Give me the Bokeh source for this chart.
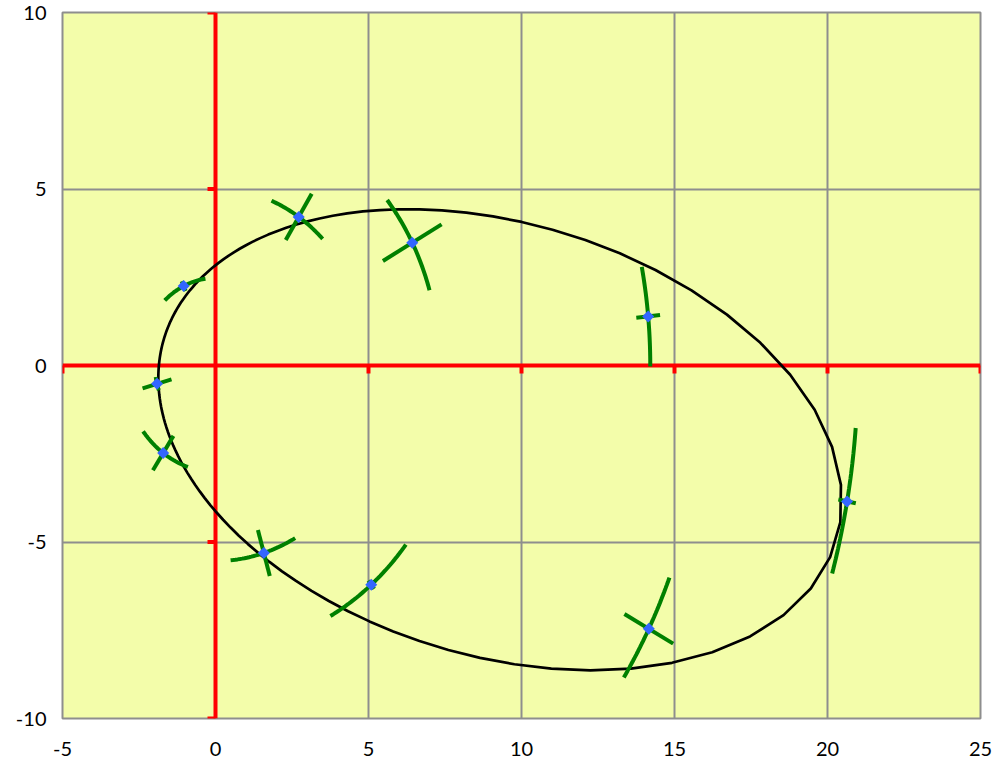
import numpy as np
from bokeh.plotting import figure
from bokeh.models import Range1d, FixedTicker
from bokeh.embed import file_html
from bokeh.resources import INLINE

# ---- axis ticks ----
x_ticks = [-5, 0, 5, 10, 15, 20, 25]
y_ticks = [-10, -5, 0, 5, 10]

# ---- observed positions (x, y) ----
obs_x = [-1.04, 2.72, 6.43, 14.14, 20.64, 14.16, 5.09, 1.58, -1.71, -1.91]
obs_y = [2.25, 4.21, 3.48, 1.39, -3.85, -7.46, -6.21, -5.31, -2.48, -0.52]
# bearing error (half width, radians) and range error (half length)
bearing_err = [0.30, 0.20, 0.20, 0.10, 0.10, 0.10, 0.20, 0.20, 0.30, 0.10]
range_err = [0.15, 0.78, 1.09, 0.39, 0.29, 0.90, 0.15, 0.68, 0.59, 0.49]

# ---- fitted orbit (focus at origin) ----
orbit_p = 3.365         # semi-latus rectum
orbit_e = 0.839         # eccentricity
orbit_peri_deg = 167.26 # direction of periapsis
anomaly_step = 0.05     # radians between curve vertices

# orbit polyline
nu = np.arange(0.0, 2 * np.pi, anomaly_step)
nu = np.append(nu, 2 * np.pi)
r_orb = orbit_p / (1 + orbit_e * np.cos(nu))
th_orb = nu + np.radians(orbit_peri_deg)
orb_x = r_orb * np.cos(th_orb)
orb_y = r_orb * np.sin(th_orb)

# error arcs and radial bars
arc_xs, arc_ys = [], []
for x, y, da, dr in zip(obs_x, obs_y, bearing_err, range_err):
    r = np.hypot(x, y)
    th = np.arctan2(y, x)
    t = np.linspace(th - da, th + da, 30)
    arc_xs.append(list(r * np.cos(t)))
    arc_ys.append(list(r * np.sin(t)))
    arc_xs.append([(r - dr) * np.cos(th), (r + dr) * np.cos(th)])
    arc_ys.append([(r - dr) * np.sin(th), (r + dr) * np.sin(th)])

W, H = 996, 764
ML, MR, MT, MB = 62, 16, 12, 46
p = figure(width=W, height=H,
           x_range=Range1d(x_ticks[0], x_ticks[-1]),
           y_range=Range1d(y_ticks[0], y_ticks[-1]),
           output_backend="svg", toolbar_location=None,
           min_border_left=ML, min_border_right=MR,
           min_border_top=MT, min_border_bottom=MB)
p.background_fill_color = "#F3FDAA"
p.border_fill_color = "white"
p.outline_line_color = "#8E8E8E"
p.outline_line_width = 2

p.xaxis.ticker = FixedTicker(ticks=x_ticks)
p.yaxis.ticker = FixedTicker(ticks=y_ticks)
p.xaxis.major_label_overrides = {v: str(v) for v in x_ticks}
p.yaxis.major_label_overrides = {v: str(v) for v in y_ticks}
for ax in (p.xaxis[0], p.yaxis[0]):
    ax.axis_line_color = None
    ax.major_tick_line_color = None
    ax.minor_tick_line_color = None
    ax.major_tick_out = 0
    ax.major_tick_in = 0
    ax.major_label_text_font = "Lato"
    ax.major_label_text_font_size = "20px"
    ax.major_label_text_color = "black"
p.xaxis.major_label_standoff = 23
p.yaxis.major_label_standoff = 16

p.grid.grid_line_color = "#8E8E8E"
p.grid.grid_line_width = 2

# red axes through origin, with tick marks
frame_w = W - ML - MR
frame_h = H - MT - MB
tick_px = 8
tx = tick_px * (x_ticks[-1] - x_ticks[0]) / frame_w
ty = tick_px * (y_ticks[-1] - y_ticks[0]) / frame_h
red = "#FF0000"
p.segment(x0=[x_ticks[0]], x1=[x_ticks[-1]], y0=[0], y1=[0], line_color=red, line_width=4)
p.segment(x0=[0], x1=[0], y0=[y_ticks[0]], y1=[y_ticks[-1]], line_color=red, line_width=4)
xt = [v for v in x_ticks if v != 0]
p.segment(x0=xt, x1=xt, y0=[0] * len(xt), y1=[-ty] * len(xt), line_color=red, line_width=4)
yt = [v for v in y_ticks if v != 0]
p.segment(x0=[0] * len(yt), x1=[-tx] * len(yt), y0=yt, y1=yt, line_color=red, line_width=4)

# orbit
p.line(orb_x, orb_y, line_color="black", line_width=2.7)
# error arcs
p.multi_line(arc_xs, arc_ys, line_color="#008000", line_width=4)
# observations
p.scatter(obs_x, obs_y, marker="square", size=8.5, angle=np.pi / 4,
          fill_color="#3366FF", line_color=None)

open("out.html", "w").write(file_html(p, INLINE))
